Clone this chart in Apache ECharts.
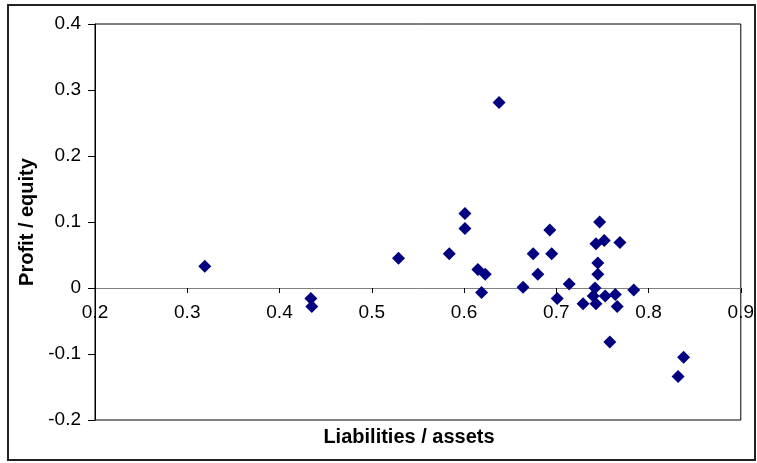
<!DOCTYPE html>
<html>
<head>
<meta charset="utf-8">
<script src="https://cdn.jsdelivr.net/npm/echarts@6/dist/echarts.min.js"></script>
<style>html,body{margin:0;padding:0;background:#fff;}#c{width:757px;height:463px;}</style>
</head>
<body>
<div id="c"></div>
<script>
var liabilitiesAssets = [0.319, 0.434, 0.435, 0.529, 0.584, 0.601, 0.601, 0.615, 0.623, 0.619, 0.638, 0.664, 0.675, 0.680, 0.693, 0.695, 0.701, 0.714, 0.729, 0.747, 0.743, 0.752, 0.769, 0.745, 0.745, 0.742, 0.740, 0.753, 0.764, 0.766, 0.743, 0.784, 0.758, 0.838, 0.832];
var profitEquity = [0.033, -0.016, -0.028, 0.045, 0.052, 0.113, 0.090, 0.028, 0.021, -0.007, 0.281, 0.001, 0.052, 0.021, 0.088, 0.052, -0.016, 0.006, -0.024, 0.100, 0.067, 0.072, 0.069, 0.038, 0.021, 0.000, -0.012, -0.012, -0.010, -0.028, -0.024, -0.003, -0.082, -0.105, -0.134];
var xTitle = 'Liabilities / assets';
var yTitle = 'Profit / equity';

var points = liabilitiesAssets.map(function (x, i) { return [x, profitEquity[i]]; });
var font = 'Liberation Sans, Arial, sans-serif';
var gridTop = 24, gridBottom = 43, H = 463;
var yMin = -0.2, yMax = 0.4;
var plotH = H - gridTop - gridBottom;
// distance from grid bottom up to y = 0 (axis sits on zero like the reference)
var zeroOffset = -plotH * (0 - yMin) / (yMax - yMin);

var chart = echarts.init(document.getElementById('c'));
chart.setOption({
  animation: false,
  backgroundColor: '#fff',
  grid: { left: 95, top: gridTop, right: 16, bottom: gridBottom, show: true, borderColor: '#000', borderWidth: 1, backgroundColor: 'transparent' },
  xAxis: {
    type: 'value', min: 0.2, max: 0.9, interval: 0.1, position: 'bottom', offset: zeroOffset,
    axisLine: { onZero: false, lineStyle: { color: '#808080', width: 1 } },
    axisTick: { show: true, inside: false, length: 5, lineStyle: { color: '#000' } },
    axisLabel: { color: '#000', fontSize: 19, fontFamily: font, margin: 15, formatter: function (v) { return +v.toFixed(1) + ''; } },
    splitLine: { show: false }
  },
  yAxis: {
    type: 'value', min: yMin, max: yMax, interval: 0.1,
    name: yTitle, nameLocation: 'middle', nameGap: 58,
    nameTextStyle: { color: '#000', fontSize: 20, fontWeight: 'bold', fontFamily: font },
    axisLine: { show: true, lineStyle: { color: '#000', width: 1 } },
    axisTick: { show: true, inside: false, length: 7, lineStyle: { color: '#000' } },
    axisLabel: { color: '#000', fontSize: 19, fontFamily: font, margin: 14, formatter: function (v) { return v === 0 ? '0' : (+v.toFixed(1)) + ''; } },
    splitLine: { show: false }
  },
  graphic: [
    { type: 'rect', shape: { x: 8, y: 5, width: 747, height: 455 }, style: { fill: 'none', stroke: '#222', lineWidth: 2 }, silent: true },
    { type: 'text', x: 409, y: 437, style: { text: xTitle, fill: '#000', font: 'bold 20px ' + font, textAlign: 'center', textVerticalAlign: 'middle' } }
  ],
  series: [{
    type: 'scatter', data: points, symbol: 'diamond', symbolSize: 13,
    itemStyle: { color: '#000080', opacity: 1 }
  }]
});
</script>
</body>
</html>
